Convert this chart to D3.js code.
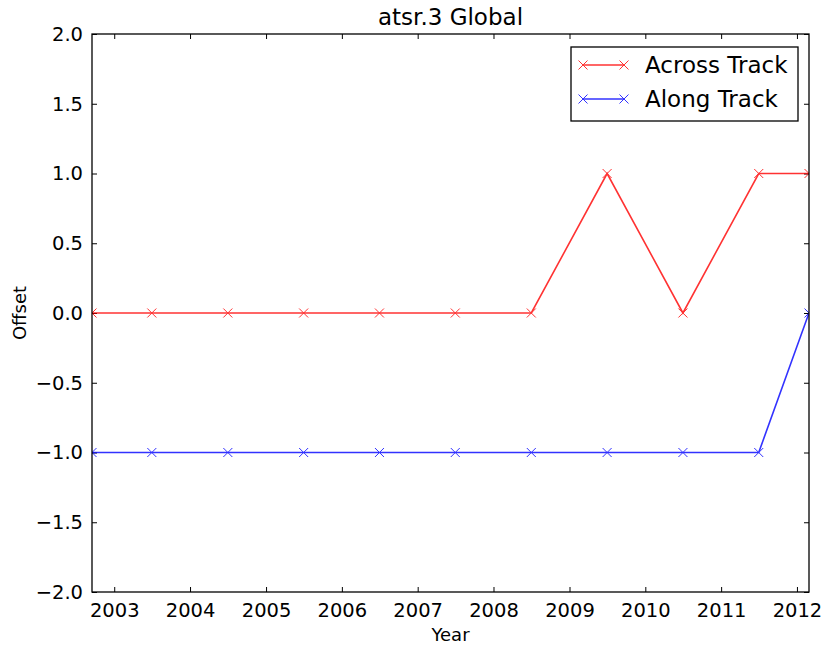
<!DOCTYPE html>
<html>
<head>
<meta charset="utf-8">
<script src="https://cdn.jsdelivr.net/npm/d3@7"></script>
<style>
  body { margin: 0; background: #fff; }
  text { font-family: "DejaVu Sans", sans-serif; }
</style>
</head>
<body>
<div id="chart"></div>
<script>
// data
var dates = ["2002-09-16", "2003-07-01", "2004-07-01", "2005-07-01", "2006-07-01",
             "2007-07-01", "2008-07-01", "2009-07-01", "2010-07-01", "2011-07-01", "2012-02-28"];
var acrossTrack = [0, 0, 0, 0, 0, 0, 0, 1, 0, 1, 1];
var alongTrack = [-1, -1, -1, -1, -1, -1, -1, -1, -1, -1, 0];
var yTicks = [-2.0, -1.5, -1.0, -0.5, 0.0, 0.5, 1.0, 1.5, 2.0];
var seriesNames = ["Across Track", "Along Track"];
var seriesColors = ["#ff0000", "#0000ff"];

var svgWidth = 822, svgHeight = 648;
var margin = { top: 34, right: 13, bottom: 56, left: 92 };
var chartWidth = 809 - margin.left;
var chartHeight = 592 - margin.top;

var parse = d3.timeParse("%Y-%m-%d");
var xs = dates.map(parse);

var svg = d3.select("#chart").append("svg")
  .attr("width", svgWidth)
  .attr("height", svgHeight);

var chartGroup = svg.append("g")
  .attr("transform", `translate(${margin.left}, ${margin.top})`);

var xScale = d3.scaleTime()
  .domain(d3.extent(xs))
  .range([0, chartWidth]);

var yScale = d3.scaleLinear()
  .domain([-2, 2])
  .range([chartHeight, 0]);

svg.append("defs").append("clipPath").attr("id", "clip")
  .append("rect").attr("width", chartWidth).attr("height", chartHeight);

var yearTicks = d3.timeYear.range(new Date(2003, 0, 1), new Date(2012, 0, 2));
var fmtY = function(d) { return d3.format(".1f")(d).replace("-", "\u2212"); };

// axes (ticks inside on all four sides)
var xAxis = d3.axisBottom(xScale).tickValues(yearTicks).tickFormat(d3.timeFormat("%Y"))
  .tickSizeInner(-5).tickSizeOuter(0).tickPadding(11);
var xAxisTop = d3.axisTop(xScale).tickValues(yearTicks).tickFormat("")
  .tickSizeInner(-5).tickSizeOuter(0);
var yAxis = d3.axisLeft(yScale).tickValues(yTicks).tickFormat(fmtY)
  .tickSizeInner(-5).tickSizeOuter(0).tickPadding(9);
var yAxisRight = d3.axisRight(yScale).tickValues(yTicks).tickFormat("")
  .tickSizeInner(-5).tickSizeOuter(0);

function styleAxis(g) {
  g.select(".domain").remove();
  g.selectAll(".tick line").attr("stroke", "#000");
  g.selectAll(".tick text").attr("font-size", 19.5).attr("fill", "#000")
    .style("font-family", "DejaVu Sans");
}

chartGroup.append("g").attr("transform", `translate(0, ${chartHeight})`).call(xAxis).call(styleAxis);
chartGroup.append("g").call(xAxisTop).call(styleAxis);
chartGroup.append("g").call(yAxis).call(styleAxis);
chartGroup.append("g").attr("transform", `translate(${chartWidth}, 0)`).call(yAxisRight).call(styleAxis);

// series
var series = [acrossTrack, alongTrack];
var line = d3.line()
  .x(function(d, i) { return xScale(xs[i]); })
  .y(function(d) { return yScale(d); });

var plot = chartGroup.append("g").attr("clip-path", "url(#clip)");

function xMarker(g, cx, cy, color) {
  var s = 4.5;
  g.append("path")
    .attr("d", `M${cx - s},${cy - s}L${cx + s},${cy + s}M${cx - s},${cy + s}L${cx + s},${cy - s}`)
    .attr("stroke", color).attr("stroke-width", 1).attr("fill", "none");
}

series.forEach(function(vals, k) {
  var g = plot.append("g").attr("opacity", 0.8);
  g.append("path")
    .datum(vals)
    .attr("d", line)
    .attr("fill", "none")
    .attr("stroke", seriesColors[k])
    .attr("stroke-width", 1.6);
  vals.forEach(function(v, i) {
    xMarker(g, xScale(xs[i]), yScale(v), seriesColors[k]);
  });
});

// frame
chartGroup.append("rect")
  .attr("width", chartWidth).attr("height", chartHeight)
  .attr("fill", "none").attr("stroke", "#000").attr("stroke-width", 1.3);

// title and axis labels
svg.append("text")
  .attr("x", margin.left + chartWidth / 2).attr("y", 25)
  .attr("text-anchor", "middle").attr("font-size", 23)
  .text("atsr.3 Global");

svg.append("text")
  .attr("x", margin.left + chartWidth / 2).attr("y", 641)
  .attr("text-anchor", "middle").attr("font-size", 18)
  .text("Year");

svg.append("text")
  .attr("transform", `translate(26, ${margin.top + chartHeight / 2}) rotate(-90)`)
  .attr("text-anchor", "middle").attr("font-size", 18)
  .text("Offset");

// legend
var legend = svg.append("g").attr("transform", "translate(571, 47)");
legend.append("rect")
  .attr("width", 227).attr("height", 74)
  .attr("fill", "#fff").attr("stroke", "#000").attr("stroke-width", 1.3);

seriesNames.forEach(function(name, k) {
  var y = 18 + k * 34;
  var g = legend.append("g").attr("opacity", 0.8);
  g.append("line")
    .attr("x1", 12).attr("x2", 53).attr("y1", y).attr("y2", y)
    .attr("stroke", seriesColors[k]).attr("stroke-width", 1.6);
  xMarker(g, 12, y, seriesColors[k]);
  xMarker(g, 53, y, seriesColors[k]);
  legend.append("text")
    .attr("x", 74).attr("y", y + 8)
    .attr("font-size", 23)
    .text(name);
});
</script>
</body>
</html>
